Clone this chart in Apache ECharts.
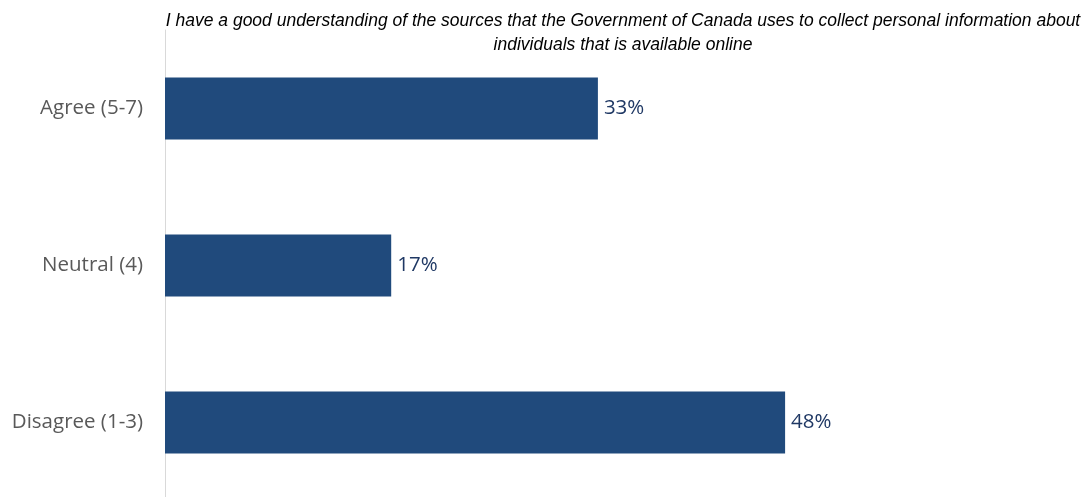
<!DOCTYPE html>
<html><head><meta charset="utf-8">
<script src="https://cdn.jsdelivr.net/npm/echarts@6/dist/echarts.min.js"></script>
<style>html,body{margin:0;padding:0;background:#fff;overflow:hidden}#c{width:1086px;height:501px}</style>
</head><body><div id="c"></div>
<script>
const categories = ['Agree (5-7)', 'Neutral (4)', 'Disagree (1-3)'];
const values = [33.3, 17.4, 47.7];
const valueLabels = ['33%', '17%', '48%'];
const titleLines = ['I have a good understanding of the sources that the Government of Canada uses to collect personal information about', 'individuals that is available online'];

const chart = echarts.init(document.getElementById('c'));
chart.setOption({
  animation: false,
  title: {
    text: titleLines.join('\n'),
    left: 618, top: 4, textAlign: 'center',
    textStyle: {fontFamily: 'Liberation Sans', fontStyle: 'italic', fontWeight: 'normal', fontSize: 17.5, color: '#000', lineHeight: 24}
  },
  grid: {left: 165, top: 30, right: 11, bottom: 0},
  xAxis: {type: 'value', min: 0, max: 70, show: false},
  yAxis: {
    type: 'category', data: categories, inverse: true,
    axisLine: {show: true, lineStyle: {color: '#d9d9d9', width: 1}},
    axisTick: {show: false},
    axisLabel: {margin: 22, fontFamily: 'Open Sans', fontSize: 20.5, color: '#595959'}
  },
  series: [{
    type: 'bar', data: values, barWidth: 62,
    itemStyle: {color: '#204a7c'},
    label: {show: true, position: 'right', distance: 6, fontFamily: 'Open Sans', fontSize: 20.5, color: '#1f3864',
      formatter: p => valueLabels[p.dataIndex]}
  }]
});
</script></body></html>
